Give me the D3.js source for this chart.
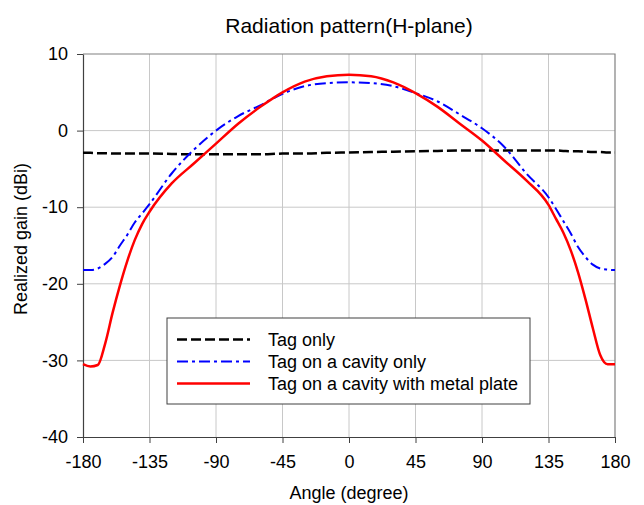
<!DOCTYPE html>
<html>
<head>
<meta charset="utf-8">
<script src="https://cdn.jsdelivr.net/npm/d3@7"></script>
<style>
  body { margin: 0; background: #fff; }
  text { font-family: "Liberation Sans", Arial, sans-serif; fill: #000; }
</style>
</head>
<body>
<svg id="chart" width="644" height="505"></svg>
<script>
// angles (degree) shared by every series
var angles = [-180,-175,-170,-165,-160,-155,-150,-145,-140,-135,-120,-105,-90,-75,-60,-45,-30,-15,0,
              15,30,45,60,75,90,105,120,135,140,145,150,155,160,165,170,175,180];

var tagOnly = [-2.9,-2.9,-2.95,-2.95,-3.0,-3.0,-3.0,-3.0,-3.0,-3.0,-3.05,-3.1,-3.1,-3.1,-3.1,-3.0,-3.0,-2.9,-2.85,
               -2.8,-2.75,-2.7,-2.65,-2.6,-2.6,-2.6,-2.6,-2.6,-2.6,-2.65,-2.7,-2.7,-2.75,-2.8,-2.8,-2.85,-2.85];

var cavityOnly = [-18.2,-18.2,-18.0,-17.4,-16.5,-15.0,-13.6,-12.0,-10.8,-9.6,-5.6,-2.5,0.0,1.9,3.3,4.8,5.8,6.2,6.3,
                  6.2,5.8,4.9,3.8,2.1,0.3,-2.1,-5.6,-8.7,-10.2,-11.8,-13.4,-15.2,-16.5,-17.5,-18.0,-18.15,-18.2];

var cavityPlate = [-30.5,-30.8,-30.6,-27.8,-23.8,-20.2,-17.0,-14.3,-12.2,-10.6,-6.9,-4.3,-1.7,0.9,3.1,5.0,6.4,7.1,7.3,
                   7.1,6.3,4.9,3.1,0.9,-1.3,-3.9,-6.5,-9.7,-11.5,-13.3,-15.6,-18.5,-22.0,-25.8,-29.3,-30.5,-30.5];

var xTicks = [-180,-135,-90,-45,0,45,90,135,180];
var yTicks = [10,0,-10,-20,-30,-40];

var seriesNames = ["Tag only", "Tag on a cavity only", "Tag on a cavity with metal plate"];

var series = [
  {name: seriesNames[0], values: tagOnly, color: "#000", dash: "10,4", width: 2.5},
  {name: seriesNames[1], values: cavityOnly, color: "#0000ff", dash: "11,4,3,4", width: 2},
  {name: seriesNames[2], values: cavityPlate, color: "#ff0000", dash: null, width: 2.5}
];

var svg = d3.select("#chart");
var pl = 83, pr = 615, pt = 54, pb = 437;

var x = d3.scaleLinear().domain([-180, 180]).range([pl, pr]);
var y = d3.scaleLinear().domain([-40, 10]).range([pb, pt]);

// grid
svg.append("g").selectAll("line").data(xTicks.slice(1, -1)).enter().append("line")
  .attr("x1", d => x(d)).attr("x2", d => x(d))
  .attr("y1", pt).attr("y2", pb)
  .attr("stroke", "#c8c8c8").attr("stroke-width", 1);
svg.append("g").selectAll("line").data(yTicks.slice(1, -1)).enter().append("line")
  .attr("x1", pl).attr("x2", pr)
  .attr("y1", d => y(d)).attr("y2", d => y(d))
  .attr("stroke", "#c8c8c8").attr("stroke-width", 1);

// frame top/right
svg.append("path")
  .attr("d", "M" + pl + "," + pt + "H" + pr + "V" + pb)
  .attr("fill", "none").attr("stroke", "#808080").attr("stroke-width", 1.2);

// axes
var fmt = d => String(d);
var xAxis = svg.append("g").attr("transform", "translate(0," + pb + ")")
  .call(d3.axisBottom(x).tickValues(xTicks).tickFormat(fmt).tickSize(6).tickPadding(12).tickSizeOuter(0));
var yAxis = svg.append("g").attr("transform", "translate(" + pl + ",0)")
  .call(d3.axisLeft(y).tickValues(yTicks).tickFormat(fmt).tickSize(6).tickPadding(9).tickSizeOuter(0));
[xAxis, yAxis].forEach(function(a) {
  a.select(".domain").attr("stroke", "#404040").attr("stroke-width", 1.2);
  a.selectAll(".tick line").attr("stroke", "#404040");
  a.selectAll("text").attr("font-size", 18)
    .attr("font-family", "'Liberation Sans', Arial, sans-serif").attr("fill", "#000");
});

// lines
var line = d3.line()
  .x((d, i) => x(angles[i]))
  .y(d => y(d))
  .curve(d3.curveMonotoneX);

series.forEach(function(s) {
  svg.append("path")
    .attr("d", line(s.values))
    .attr("fill", "none")
    .attr("stroke", s.color)
    .attr("stroke-width", s.width)
    .attr("stroke-dasharray", s.dash);
});

// title and axis labels
svg.append("text").attr("x", (pl + pr) / 2).attr("y", 33)
  .attr("text-anchor", "middle").attr("font-size", 21)
  .text("Radiation pattern(H-plane)");
svg.append("text").attr("x", (pl + pr) / 2).attr("y", 499)
  .attr("text-anchor", "middle").attr("font-size", 18)
  .text("Angle (degree)");
svg.append("text").attr("transform", "translate(27,239) rotate(-90)")
  .attr("text-anchor", "middle").attr("font-size", 18)
  .text("Realized gain (dBi)");

// legend
var legend = svg.append("g");
legend.append("rect")
  .attr("x", 167).attr("y", 318).attr("width", 363).attr("height", 86)
  .attr("fill", "#fff").attr("stroke", "#404040").attr("stroke-width", 1);
series.forEach(function(s, i) {
  var ly = 339.5 + i * 22;
  legend.append("line")
    .attr("x1", 177).attr("x2", 250).attr("y1", ly).attr("y2", ly)
    .attr("stroke", s.color).attr("stroke-width", s.width)
    .attr("stroke-dasharray", s.dash);
  legend.append("text").attr("x", 268).attr("y", ly + 6)
    .attr("font-size", 18).text(s.name);
});
</script>
</body>
</html>
